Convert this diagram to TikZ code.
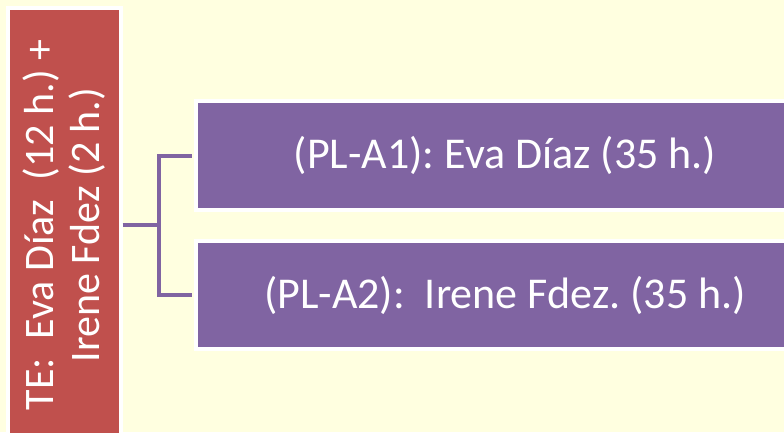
\documentclass[tikz,border=0pt]{standalone}
\usepackage{fontspec}
\setmainfont{Carlito}
\frenchspacing
\usetikzlibrary{positioning}
\definecolor{bgyellow}{HTML}{FFFFE0}
\definecolor{tered}{HTML}{C0504D}
\definecolor{plpurple}{HTML}{8064A2}
\tikzset{
  tebox/.style={rectangle, fill=tered, draw=white, line width=4pt, text=white,
    align=center, inner sep=0pt, font=\fontsize{42}{46}\selectfont},
  plbox/.style={rectangle, fill=plpurple, draw=white, line width=4pt, text=white,
    inner sep=0pt, minimum width=618pt, font=\fontsize{44}{50}\selectfont},
  conn/.style={draw=plpurple, line width=4pt}
}
\begin{document}
\begin{tikzpicture}[x=1pt,y=-1pt]
  \useasboundingbox (0,0) rectangle (784,432);
  \fill[bgyellow] (0,0) rectangle (784,432);
  \clip (0,0) rectangle (784,432);
  % left box, text turned upwards
  \node[tebox, rotate=90, minimum width=434pt, minimum height=113pt] (te) at (64,225)
    {TE:\ \ Eva Díaz\ \ (12 h.) +\\Irene Fdez (2 h.)};
  \node[plbox, minimum height=109pt] (pla1) at (505,155.5) {(PL-A1): Eva Díaz (35 h.)};
  \node[plbox, minimum height=108pt] (pla2) at (505,295) {(PL-A2):\ \ Irene Fdez. (35 h.)};
  % connectors
  \draw[conn] (te.south) -- ++(36,0) coordinate (fork);
  \draw[conn, shorten >=2pt] (fork) |- (pla1.west);
  \draw[conn, shorten >=2pt] (fork) |- (pla2.west);
\end{tikzpicture}
\end{document}
